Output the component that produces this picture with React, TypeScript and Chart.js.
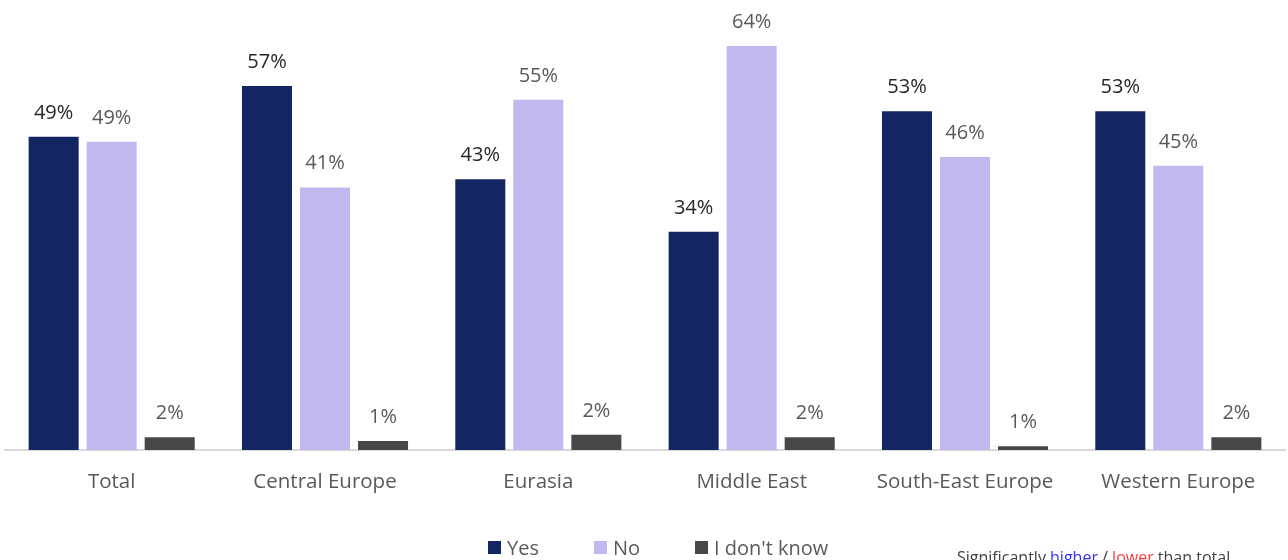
import React, { useEffect, useRef } from "react";
import { Chart, registerables } from "chart.js";

Chart.register(...registerables);

const categories = ["Total", "Central Europe", "Eurasia", "Middle East", "South-East Europe", "Western Europe"];
const seriesNames = ["Yes", "No", "I don't know"];
const yesValues = [49.4, 57.4, 42.7, 34.4, 53.4, 53.4];
const noValues = [48.6, 41.4, 55.2, 63.7, 46.2, 44.8];
const dontKnowValues = [2.0, 1.4, 2.4, 2.0, 0.6, 2.0];
const seriesColors = ["#142661", "#c1b8f0", "#474747"];
const labelColors = ["#262626", "#595959", "#595959"];
const noteParts = [
  { text: "Significantly ", color: "#404040" },
  { text: "higher", color: "#2f2fff" },
  { text: " / ", color: "#404040" },
  { text: "lower", color: "#ff3b3b" },
  { text: " than total", color: "#404040" },
];

const FONT = "'Open Sans', 'Noto Sans', sans-serif";

const valueLabels = {
  id: "valueLabels",
  afterDatasetsDraw(chart: any) {
    const ctx = chart.ctx;
    ctx.save();
    ctx.font = `20px ${FONT}`;
    ctx.textAlign = "center";
    ctx.textBaseline = "alphabetic";
    chart.data.datasets.forEach((ds: any, di: number) => {
      const meta = chart.getDatasetMeta(di);
      meta.data.forEach((bar: any, i: number) => {
        ctx.fillStyle = labelColors[di];
        ctx.fillText(`${Math.round(ds.data[i])}%`, bar.x, bar.y - 18);
      });
    });
    ctx.restore();
  },
};

const customLegend = {
  id: "customLegend",
  afterDraw(chart: any) {
    const ctx = chart.ctx;
    ctx.save();
    ctx.font = `20px ${FONT}`;
    ctx.textBaseline = "alphabetic";
    let x = 488;
    const boxTop = 541;
    const baseline = 555;
    chart.data.datasets.forEach((ds: any) => {
      ctx.fillStyle = ds.backgroundColor;
      ctx.fillRect(x, boxTop, 13, 13);
      ctx.fillStyle = "#595959";
      ctx.textAlign = "left";
      ctx.fillText(ds.label, x + 19, baseline);
      const w = ctx.measureText(ds.label).width;
      x = x + 19 + w + 55;
    });
    ctx.font = `16px ${FONT}`;
    let nx = 957;
    noteParts.forEach((p) => {
      ctx.fillStyle = p.color;
      ctx.fillText(p.text, nx, 563);
      nx += ctx.measureText(p.text).width;
    });
    ctx.restore();
  },
};

export default function App() {
  const ref = useRef<HTMLCanvasElement>(null);
  useEffect(() => {
    if (!ref.current) return;
    const seriesData = [yesValues, noValues, dontKnowValues];
    const chart = new Chart(ref.current, {
      type: "bar",
      data: {
        labels: categories,
        datasets: seriesNames.map((name, i) => ({
          label: name,
          data: seriesData[i],
          backgroundColor: seriesColors[i],
          borderWidth: 0,
          categoryPercentage: 0.816,
          barPercentage: 0.862,
        })),
      },
      options: {
        responsive: false,
        animation: false,
        layout: { padding: { top: 6, left: 5, right: 3, bottom: 60 } },
        plugins: {
          legend: { display: false },
          tooltip: { enabled: false },
        },
        scales: {
          x: {
            grid: { display: false },
            border: { display: true, color: "#d9d9d9", width: 2 },
            ticks: {
              color: "#595959",
              font: { family: FONT, size: 20.5 },
              padding: 12,
            },
            afterFit: (scale: any) => {
              scale.height = 50;
            },
          },
          y: {
            display: false,
            min: 0,
            max: 70,
          },
        },
      },
      plugins: [valueLabels, customLegend],
    });
    return () => chart.destroy();
  }, []);
  return (
    <div style={{ position: "fixed", left: 0, top: 0, width: 1288, height: 560, background: "#fff" }}>
      <canvas ref={ref} width={1288} height={560} />
    </div>
  );
}
